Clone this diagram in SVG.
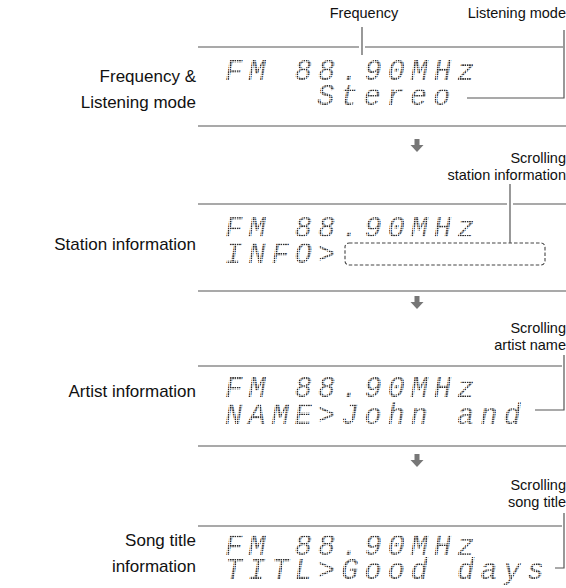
<svg xmlns="http://www.w3.org/2000/svg" width="566" height="588" viewBox="0 0 566 588">
<style>
.lbl{font-family:"Liberation Sans",Arial,sans-serif;font-size:17px;fill:#111;text-anchor:end}
.sm{font-family:"Liberation Sans",Arial,sans-serif;font-size:14.5px;fill:#111}
.lcd{font-family:"Liberation Mono","DejaVu Sans Mono",monospace;font-style:italic;font-size:29px;letter-spacing:5.8px;fill:url(#dots)}
.ln{stroke:#555;stroke-width:1.2;fill:none}
.arw{fill:#777}
</style>
<defs>
<pattern id="dots" patternUnits="userSpaceOnUse" width="2.3" height="2.3"><rect width="1.6" height="1.6" fill="#2a2a2a"/></pattern>
<g id="arrow"><rect x="-2.5" y="0" width="5" height="6" class="arw"/><polygon points="-6.5,6 6.5,6 0,13" class="arw"/></g>
</defs>
<rect width="566" height="588" fill="#fff"/>

<g id="panel1">
<text class="sm" x="364" y="18" text-anchor="middle">Frequency</text>
<text class="sm" x="566" y="18" text-anchor="end">Listening mode</text>
<text class="lbl" x="196" y="82">Frequency &amp;</text>
<text class="lbl" x="196" y="108">Listening mode</text>
<text class="lcd" x="225" y="80">FM 88.90MHz</text>
<text class="lcd" x="317" y="105">Stereo</text>
</g>
<g id="panel2">
<text class="sm" x="566" y="163" text-anchor="end">Scrolling</text>
<text class="sm" x="566" y="180" text-anchor="end">station information</text>
<text class="lbl" x="196" y="250">Station information</text>
<text class="lcd" x="225" y="237">FM 88.90MHz</text>
<text class="lcd" x="225" y="263">INFO&gt;</text>
<rect x="345" y="243" width="200" height="22" rx="4" fill="none" stroke="#444" stroke-width="1.1" stroke-dasharray="3.5 2"/>
</g>
<g id="panel3">
<text class="sm" x="566" y="333" text-anchor="end">Scrolling</text>
<text class="sm" x="566" y="350" text-anchor="end">artist name</text>
<text class="lbl" x="196" y="397">Artist information</text>
<text class="lcd" x="225" y="397">FM 88.90MHz</text>
<text class="lcd" x="225" y="424">NAME&gt;John and</text>
</g>
<g id="panel4">
<text class="sm" x="566" y="490" text-anchor="end">Scrolling</text>
<text class="sm" x="566" y="507" text-anchor="end">song title</text>
<text class="lbl" x="196" y="546">Song title</text>
<text class="lbl" x="196" y="572">information</text>
<text class="lcd" x="225" y="555">FM 88.90MHz</text>
<text class="lcd" x="225" y="579">TITL&gt;Good days</text>
</g>

<g id="connectors">
<path class="ln" d="M198 47H359M365 47H563M362 27V55M564 30V98H467M198 126H566"/>
<path class="ln" d="M198 204H507M513 204H566M510 184V243M198 291H566"/>
<path class="ln" d="M198 366H562M564 355V410H535M198 446H566"/>
<path class="ln" d="M198 526H562M564 513V568H555"/>
<use href="#arrow" x="417" y="139"/>
<use href="#arrow" x="417" y="296"/>
<use href="#arrow" x="417" y="454"/>
</g>
</svg>
